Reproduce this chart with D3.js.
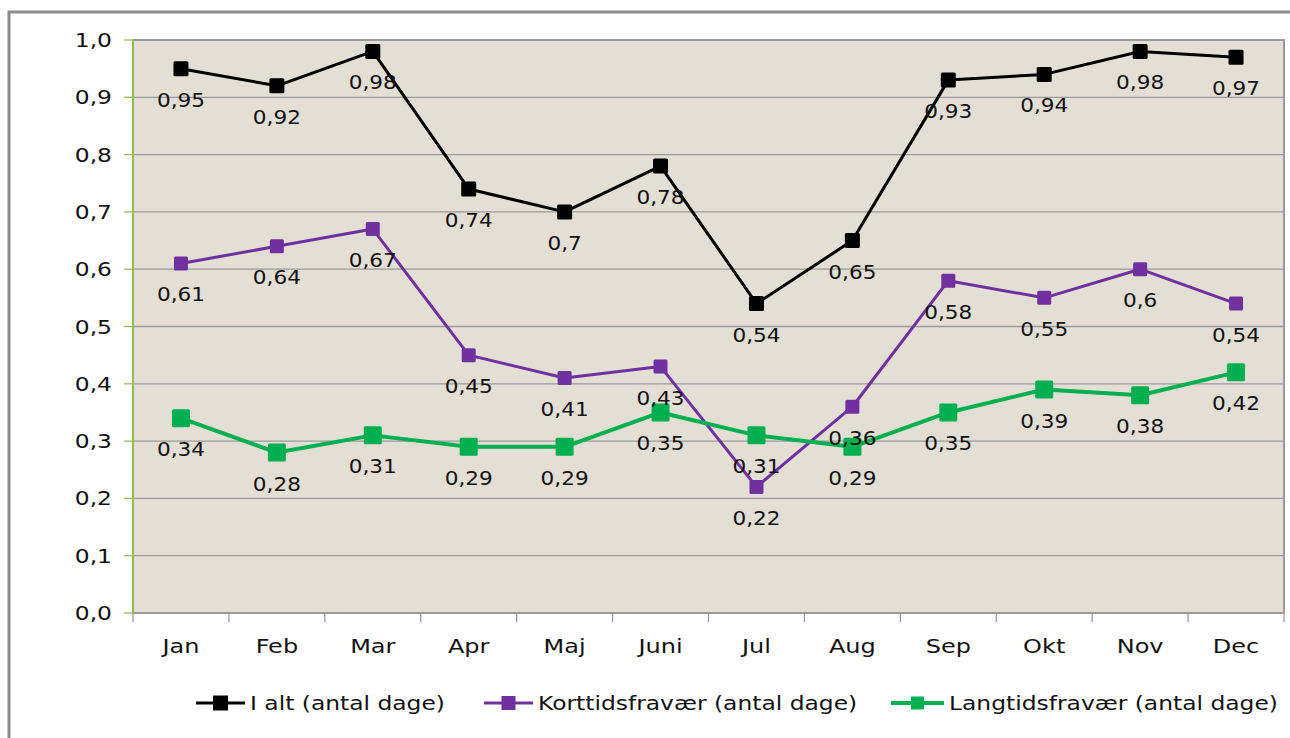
<!DOCTYPE html>
<html>
<head>
<meta charset="utf-8">
<script src="https://cdn.jsdelivr.net/npm/d3@7"></script>
<style>
  body { margin: 0; background: #fff; }
  svg { display: block; font-family: "DejaVu Sans", Verdana, sans-serif; }
</style>
</head>
<body>
<script>
// data
var months = ["Jan", "Feb", "Mar", "Apr", "Maj", "Juni", "Jul", "Aug", "Sep", "Okt", "Nov", "Dec"];
var iAlt = [0.95, 0.92, 0.98, 0.74, 0.70, 0.78, 0.54, 0.65, 0.93, 0.94, 0.98, 0.97];
var kort = [0.61, 0.64, 0.67, 0.45, 0.41, 0.43, 0.22, 0.36, 0.58, 0.55, 0.60, 0.54];
var lang = [0.34, 0.28, 0.31, 0.29, 0.29, 0.35, 0.31, 0.29, 0.35, 0.39, 0.38, 0.42];
var yTicks = [0, 0.1, 0.2, 0.3, 0.4, 0.5, 0.6, 0.7, 0.8, 0.9, 1.0];
var seriesNames = ["I alt (antal dage)", "Korttidsfravær (antal dage)", "Langtidsfravær (antal dage)"];

var width = 1290, height = 738;
var plotL = 133, plotR = 1284, plotT = 40, plotB = 613;
var textCol = "#111";

var svg = d3.select("body").append("svg")
    .attr("width", width)
    .attr("height", height);

// text in the picture is a bit stretched sideways, so squeeze it out with scaleX
function addText(g, px, py, str, sx, anchor) {
  return g.append("text")
    .attr("transform", "translate(" + px + "," + py + ") scale(" + sx + ",1)")
    .attr("text-anchor", anchor || "middle")
    .attr("font-size", 20)
    .attr("fill", textCol)
    .text(str);
}

// outer chart frame
svg.append("rect")
    .attr("x", 9).attr("y", 12)
    .attr("width", 1300).attr("height", 800)
    .attr("fill", "#fff")
    .attr("stroke", "#8c8c8c")
    .attr("stroke-width", 3);

var x = d3.scaleBand().domain(months).range([plotL, plotR]);
var y = d3.scaleLinear().domain([0, 1]).range([plotB, plotT]);
var cx = function(i) { return x(months[i]) + x.bandwidth() / 2; };
var fmt = function(v) { return String(+v.toFixed(2)).replace(".", ","); };

// plot area
svg.append("rect")
    .attr("x", plotL).attr("y", plotT)
    .attr("width", plotR - plotL).attr("height", plotB - plotT)
    .attr("fill", "#e3dfd5");

svg.append("g").selectAll("line")
    .data(yTicks.slice(1))
    .enter().append("line")
    .attr("x1", plotL).attr("x2", plotR)
    .attr("y1", function(d) { return y(d); })
    .attr("y2", function(d) { return y(d); })
    .attr("stroke", "#9a9a9a")
    .attr("stroke-width", 1.3);

// top + right border of plot area
svg.append("path")
    .attr("d", "M" + plotL + "," + plotT + "H" + plotR + "V" + plotB)
    .attr("fill", "none")
    .attr("stroke", "#9a9a9a")
    .attr("stroke-width", 2);

// x axis
var xAxis = svg.append("g");
xAxis.append("line")
    .attr("x1", plotL).attr("x2", plotR)
    .attr("y1", plotB).attr("y2", plotB)
    .attr("stroke", "#9a9a9a").attr("stroke-width", 2);
xAxis.selectAll("line.tick")
    .data(d3.range(months.length + 1))
    .enter().append("line")
    .attr("class", "tick")
    .attr("x1", function(i) { return plotL + i * x.bandwidth(); })
    .attr("x2", function(i) { return plotL + i * x.bandwidth(); })
    .attr("y1", plotB).attr("y2", plotB + 9)
    .attr("stroke", "#9a9a9a").attr("stroke-width", 1.3);
months.forEach(function(m, i) {
  addText(xAxis, cx(i), plotB + 40, m, 1.2);
});

// y axis (green)
var yAxis = svg.append("g");
yAxis.append("line")
    .attr("x1", plotL).attr("x2", plotL)
    .attr("y1", plotT).attr("y2", plotB)
    .attr("stroke", "#92c050").attr("stroke-width", 2);
yAxis.selectAll("line.tick")
    .data(yTicks)
    .enter().append("line")
    .attr("class", "tick")
    .attr("x1", plotL - 9).attr("x2", plotL)
    .attr("y1", function(d) { return y(d); })
    .attr("y2", function(d) { return y(d); })
    .attr("stroke", "#92c050").attr("stroke-width", 1.3);
yTicks.forEach(function(t) {
  addText(yAxis, 112, y(t) + 7, t.toFixed(1).replace(".", ","), 1.17, "end");
});

var series = [
  { name: seriesNames[0], values: iAlt, color: "#000000", lw: 3, ms: 15 },
  { name: seriesNames[1], values: kort, color: "#7030a0", lw: 3, ms: 14 },
  { name: seriesNames[2], values: lang, color: "#00b050", lw: 4, ms: 18 }
];

var line = d3.line()
    .x(function(d, i) { return cx(i); })
    .y(function(d) { return y(d); });

series.forEach(function(s) {
  var g = svg.append("g");
  g.append("path")
    .attr("d", line(s.values))
    .attr("fill", "none")
    .attr("stroke", s.color)
    .attr("stroke-width", s.lw)
    .attr("stroke-linejoin", "round");
  g.selectAll("rect")
    .data(s.values)
    .enter().append("rect")
    .attr("x", function(d, i) { return cx(i) - s.ms / 2; })
    .attr("y", function(d) { return y(d) - s.ms / 2; })
    .attr("width", s.ms).attr("height", s.ms)
    .attr("rx", 1.5)
    .attr("fill", s.color);
});

// data labels, below each point
var labels = svg.append("g");
series.forEach(function(s) {
  s.values.forEach(function(v, i) {
    addText(labels, cx(i), y(v) + 38, fmt(v), 1.08);
  });
});

// legend
var legendX = [196, 484, 891];
var legend = svg.append("g");
series.forEach(function(s, i) {
  var lx = legendX[i], len = i == 2 ? 53 : 49, ms = i == 2 ? 13 : s.ms;
  legend.append("line")
    .attr("x1", lx).attr("x2", lx + len)
    .attr("y1", 703).attr("y2", 703)
    .attr("stroke", s.color)
    .attr("stroke-width", s.lw);
  legend.append("rect")
    .attr("x", lx + len / 2 - ms / 2)
    .attr("y", 703 - ms / 2)
    .attr("width", ms).attr("height", ms)
    .attr("fill", s.color);
  addText(legend, lx + len + 5, 710, s.name, 1.17, "start");
});
</script>
</body>
</html>
